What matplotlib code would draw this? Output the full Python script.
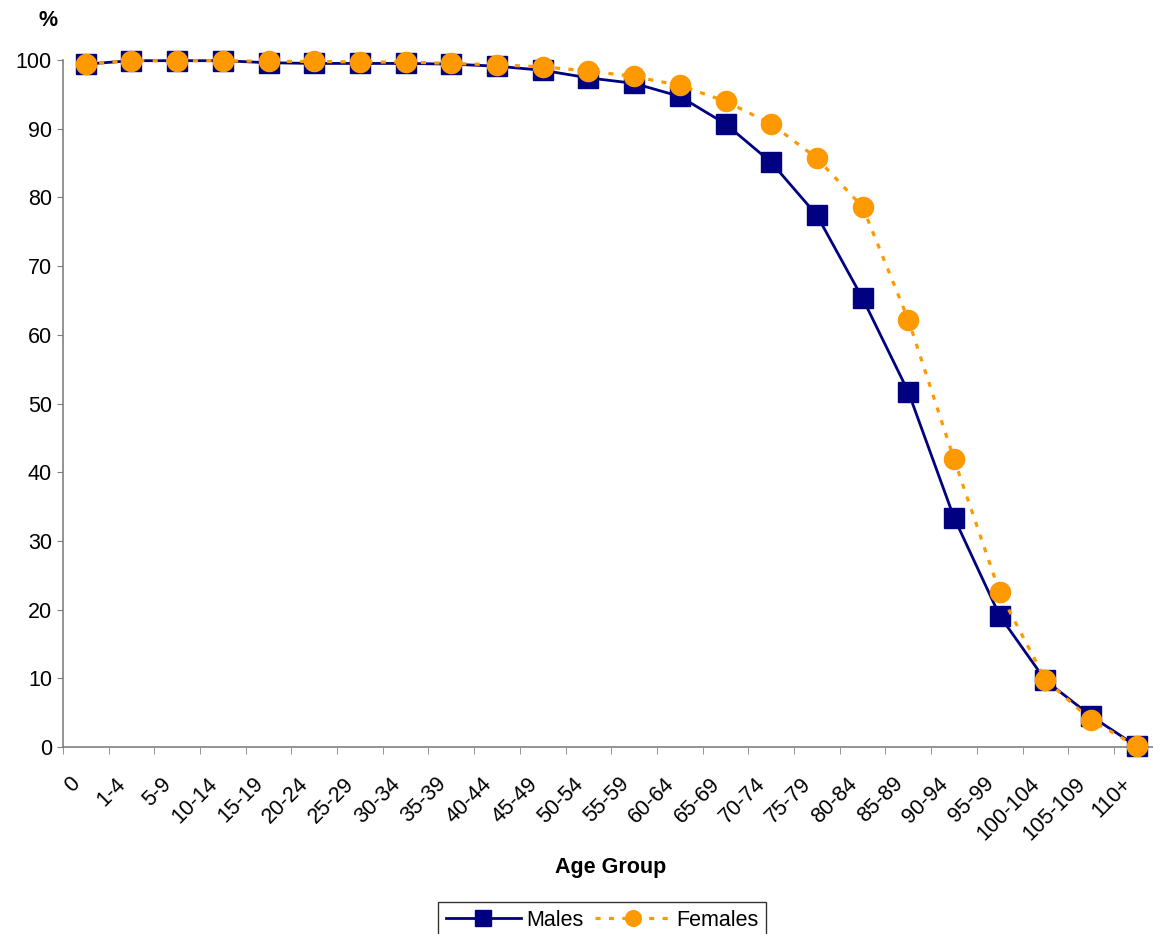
import matplotlib
matplotlib.use("Agg")
import matplotlib.pyplot as plt
import matplotlib.transforms as mtransforms
import numpy as np

age_groups = ["0", "1-4", "5-9", "10-14", "15-19", "20-24", "25-29", "30-34",
              "35-39", "40-44", "45-49", "50-54", "55-59", "60-64", "65-69",
              "70-74", "75-79", "80-84", "85-89", "90-94", "95-99", "100-104",
              "105-109", "110+"]
males = [99.4, 99.9, 99.9, 99.9, 99.6, 99.5, 99.5, 99.5, 99.4, 99.1, 98.5,
         97.4, 96.6, 94.7, 90.7, 85.1, 77.4, 65.3, 51.7, 33.4, 19.1, 9.7,
         4.5, 0.1]
females = [99.4, 99.9, 99.9, 99.9, 99.8, 99.8, 99.7, 99.7, 99.5, 99.3, 99.0,
           98.4, 97.6, 96.3, 94.0, 90.7, 85.7, 78.6, 62.2, 41.9, 22.5, 9.8,
           3.9, 0.1]
y_ticks = [0, 10, 20, 30, 40, 50, 60, 70, 80, 90, 100]

plt.rcParams['font.family'] = ['Liberation Sans', 'DejaVu Sans']
FS = 15.5

W, H = 1153, 934
fig = plt.figure(figsize=(W / 100, H / 100), dpi=100)
step = 45.7
left_px = 85.7 - step / 2
ax = fig.add_axes([left_px / W, (H - 747) / H, (24 * step) / W, (747 - 60) / H])

x = np.arange(len(age_groups))
ax.plot(x, males, color='#000080', lw=2.0, marker='s', markersize=14,
        markerfacecolor='#000080', markeredgecolor='#000080', clip_on=False,
        label='Males', zorder=3)
ax.plot(x, females, color='#FF9900', lw=2.3, linestyle=(0, (1.6, 2.6)),
        marker='o', markersize=14.5, markerfacecolor='#FF9900',
        markeredgecolor='#FF9900', clip_on=False, label='Females', zorder=4)

ax.set_xlim(-0.5, len(age_groups) - 0.5)
ax.set_ylim(0, 100)
ax.set_yticks(y_ticks)
ax.tick_params(axis='y', labelsize=FS, length=4.3, color='#808080', pad=3.6)

ax.set_xticks(x)
ax.set_xticklabels(age_groups, rotation=45, ha='right', va='top',
                   rotation_mode='anchor', fontsize=FS)
ax.set_xticks(np.arange(-0.5, len(age_groups), 1.0), minor=True)
ax.tick_params(axis='x', which='major', length=0, pad=19)
ax.tick_params(axis='x', which='minor', length=5, color='#808080')
offset = mtransforms.ScaledTranslation(-16 / 100, 0, fig.dpi_scale_trans)
for lbl in ax.get_xticklabels():
    lbl.set_transform(lbl.get_transform() + offset)

for s in ['top', 'right']:
    ax.spines[s].set_visible(False)
for s in ['left', 'bottom']:
    ax.spines[s].set_color('#808080')
    ax.spines[s].set_linewidth(1.2)

fig.text(48 / W, 1 - 20 / H, '%', fontsize=FS, fontweight='bold',
         ha='center', va='center')
fig.text(611 / W, 1 - 867 / H, 'Age Group', fontsize=FS, fontweight='bold',
         ha='center', va='center')

leg = fig.legend(loc='upper center', bbox_to_anchor=(602 / W, 1 - 902 / H),
                 ncol=2, fontsize=FS, frameon=True, fancybox=False,
                 edgecolor='black', handlelength=3.5, columnspacing=0.55,
                 handletextpad=0.25, borderpad=0.35, borderaxespad=0,
                 markerscale=0.78)
leg.get_frame().set_linewidth(1.0)

fig.savefig('out.png', dpi=100)
